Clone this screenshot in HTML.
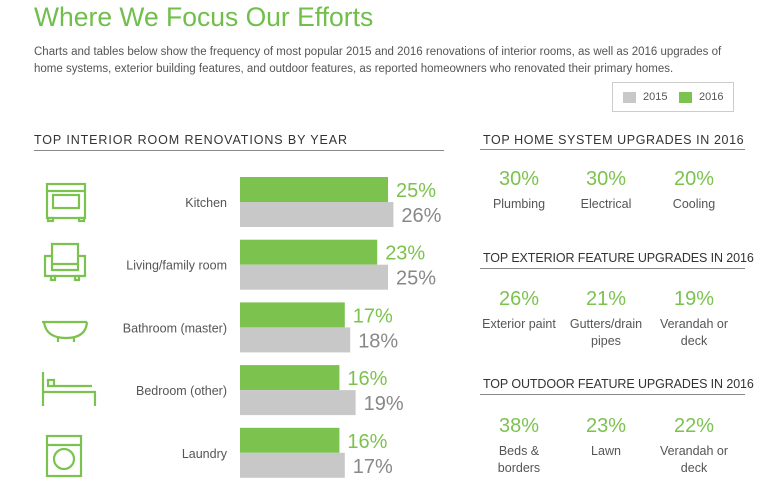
<!DOCTYPE html>
<html><head><meta charset="utf-8"><style>
body{margin:0;width:768px;height:492px;background:#fff;font-family:"Liberation Sans",sans-serif;position:relative;overflow:hidden;color:#444}
.a{position:absolute}
h1{position:absolute;left:34px;top:2px;margin:0;font-weight:normal;font-size:26.5px;color:#6fbf4a}
.sub{left:34px;top:44px;width:705px;font-size:11.5px;line-height:17px;color:#555}
.hd{font-size:12.5px;color:#333;white-space:nowrap}
.rule{height:1px;background:#888}
.big{font-size:20px;color:#7cc24f;text-align:center;width:90px}
.sm{font-size:12.5px;color:#555;text-align:center;width:90px;line-height:17px}
</style></head><body>
<h1>Where We Focus Our Efforts</h1>
<div class="a sub">Charts and tables below show the frequency of most popular 2015 and 2016 renovations of interior rooms, as well as 2016 upgrades of home systems, exterior building features, and outdoor features, as reported homeowners who renovated their primary homes.</div>
<div class="a" style="left:612px;top:82px;width:120px;height:28px;border:1px solid #ccc;font-size:11px;color:#555">
<span class="a" style="left:10px;top:9px;width:13px;height:11px;background:#c8c8c8"></span><span class="a" style="left:30px;top:8px">2015</span>
<span class="a" style="left:66px;top:9px;width:13px;height:11px;background:#7cc24f"></span><span class="a" style="left:86px;top:8px">2016</span></div>
<div class="a hd" style="left:34px;top:133px;letter-spacing:0.9px">TOP INTERIOR ROOM RENOVATIONS BY YEAR</div>
<div class="a rule" style="left:34px;top:150px;width:410px"></div>
<svg class="a" style="left:0;top:0" width="768" height="492" id="chart">
<g stroke="#7cc24f" stroke-width="2.2" fill="none">
<rect x="47" y="184" width="38" height="34"/><rect x="53" y="195" width="26" height="13"/><line x1="47" y1="191" x2="85" y2="191"/><rect x="48" y="218" width="5" height="3"/><rect x="79" y="218" width="5" height="3"/>
<path d="M52 244h26v20h-26z M45 256h7v14h26v-14h7v20h-40z"/><rect x="51" y="276" width="4" height="4"/><rect x="75" y="276" width="4" height="4"/>
<path d="M42 322h45 M44 322q2 16 22 16 q20 0 21-16 M58 338v4 M74 338v4"/>
<path d="M43 372v34 M43 392h52v14 M52 386h40 M48 380h6v6h-6z"/>
<rect x="47" y="436" width="34" height="40"/><circle cx="64" cy="459" r="10"/><line x1="47" y1="445" x2="81" y2="445"/>
</g></svg>
<div class="a hd" style="left:483px;top:133px;letter-spacing:0.6px">TOP HOME SYSTEM UPGRADES IN 2016</div>
<div class="a rule" style="left:480px;top:149px;width:265px"></div>
<div class="a hd" style="left:483px;top:251px;letter-spacing:-0.1px">TOP EXTERIOR FEATURE UPGRADES IN 2016</div>
<div class="a rule" style="left:480px;top:268px;width:265px"></div>
<div class="a hd" style="left:483px;top:377px;letter-spacing:-0.1px">TOP OUTDOOR FEATURE UPGRADES IN 2016</div>
<div class="a rule" style="left:480px;top:394px;width:265px"></div>
<div id="stats"></div>
<script>
const rooms=["Kitchen","Living/family room","Bathroom (master)","Bedroom (other)","Laundry"];
const v2016=[25,23,17,16,16];
const v2015=[26,25,18,19,17];
const sysLabels=["Plumbing","Electrical","Cooling"];
const sysVals=[30,30,20];
const extLabels=["Exterior paint","Gutters/drain<br>pipes","Verandah or<br>deck"];
const extVals=[26,21,19];
const outLabels=["Beds &amp;<br>borders","Lawn","Verandah or<br>deck"];
const outVals=[38,23,22];
const svg=document.getElementById('chart'),NS="http://www.w3.org/2000/svg";
const x=v=>253+5.4*v, x0=240;
const rowY=i=>177+i*62.7;
function mk(t,a){const e=document.createElementNS(NS,t);for(const k in a)e.setAttribute(k,a[k]);svg.appendChild(e);return e;}
rooms.forEach((r,i)=>{
 const y=rowY(i);
 const g=mk('rect',{x:x0,y:y,width:x(v2016[i])-x0,height:25,fill:'#7cc24f'});
 
 
 const b=mk('rect',{x:x0,y:y+25,width:x(v2015[i])-x0,height:25,fill:'#c8c8c8'});
 
 
 const t1=mk('text',{x:x(v2016[i])+8,y:y+20,'font-size':20,fill:'#7cc24f','font-family':'Liberation Sans, sans-serif'});t1.textContent=v2016[i]+'%';
 
 
 const t2=mk('text',{x:x(v2015[i])+8,y:y+45,'font-size':20,fill:'#888','font-family':'Liberation Sans, sans-serif'});t2.textContent=v2015[i]+'%';
 
 
 const l=mk('text',{x:227,y:y+30,'font-size':12.5,fill:'#555','text-anchor':'end','font-family':'Liberation Sans, sans-serif'});l.textContent=r;
 
 
});
const st=document.getElementById('stats');
const cx=[519,606,694];
[[sysVals,sysLabels,168],[extVals,extLabels,288],[outVals,outLabels,415]].forEach(([vals,labs,top],s)=>{
 vals.forEach((v,i)=>{
  const n=document.createElement('div');n.className='a big';n.style.left=(cx[i]-45)+'px';n.style.top=top+'px';n.textContent=v+'%';
  
  
  st.appendChild(n);
  const l=document.createElement('div');l.className='a sm';l.style.left=(cx[i]-45)+'px';l.style.top=(top+28)+'px';l.innerHTML=labs[i];
  
  
  st.appendChild(l);
 });
});
</script>
</body></html>
